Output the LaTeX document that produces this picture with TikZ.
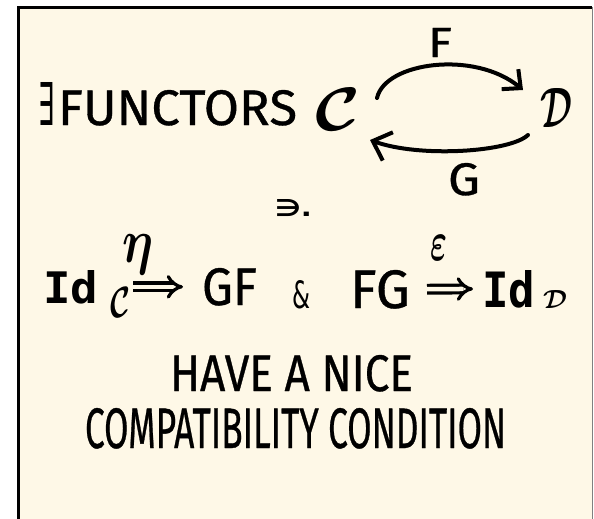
\documentclass[tikz,border=0pt]{standalone}
\usepackage{amsmath,bm}
\usepackage{fontspec}
\setmainfont{Fira Sans}[FakeBold=0.7]
\newfontfamily\symfont{DejaVu Sans}
\newfontfamily\idfont{DejaVu Sans Mono}
\usetikzlibrary{arrows.meta}
\definecolor{cream}{RGB}{254,248,231}
\begin{document}
\begin{tikzpicture}[x=1pt,y=-1pt,
  txt/.style={inner sep=0pt,outer sep=0pt,anchor=north west},
  arcline/.style={line width=4pt,line cap=round,line join=round},
  nat/.style={double=cream,double distance=4.5pt,line width=3.2pt,-{Implies}}]
\useasboundingbox (0,0) rectangle (594,519);
\fill[white] (0,0) rectangle (594,519);
\fill[cream] (18,7.5) rectangle (592.5,519);
\draw[line width=3pt] (18,519) -- (18,7.5) -- (591.5,7.5);
\draw[gray,line width=1.2pt] (592.5,7.5) -- (592.5,519);
% first line
\node[txt] (ex) at (38,82) {\resizebox{16pt}{43pt}{\symfont ∃}};
\node[txt] (fun) at (58,90) {\resizebox{239pt}{35pt}{FUNCTORS}};
\node[txt] (C) at (315,88) {\resizebox*{45pt}{42pt}{$\bm{\mathcal{C}}$}};
\node[txt] (D) at (540,88) {\resizebox*{32pt}{39pt}{$\bm{\mathcal{D}}$}};
\node[txt] (F) at (428,28) {\resizebox{24pt}{29pt}{F}};
\node[txt] (G) at (448,163) {\resizebox{32pt}{32pt}{G}};
\draw[arcline,-{Straight Barb[length=14pt,width=26pt]}]
  ([shift={(17,-11)}]C.east) .. controls (385,62) and (475,50) .. ([shift={(-17,-17.5)}]D.west);
\draw[arcline,-{Straight Barb[length=16pt,width=30pt]}]
  ([shift={(-12,27.5)}]D.west) .. controls (510,152) and (420,158) .. ([shift={(10,31)}]C.east);
% such that
\node[txt] (st) at (275,199) {\resizebox{37pt}{17pt}{\symfont\bfseries ∋.}};
% second line
\node[txt] (id1) at (43,270) {\resizebox{55pt}{33pt}{\idfont\bfseries Id}};
\node[txt] (s1) at (110,287) {\resizebox*{20pt}{30pt}{$\bm{\mathcal{C}}$}};
\node[txt] (eta) at (122,235) {\resizebox*{31pt}{40pt}{$\bm{\eta}$}};
\node[txt] (gf) at (202,268) {\resizebox{55pt}{37pt}{GF}};
\node[txt] (amp) at (292,280) {\resizebox{18pt}{28pt}{\symfont\&}};
\node[txt] (fg) at (350,270) {\resizebox{60pt}{38pt}{FG}};
\node[txt] (eps) at (430,235) {\resizebox*{17pt}{25pt}{$\bm{\varepsilon}$}};
\node[txt] (id2) at (482,270) {\resizebox{53pt}{37pt}{\idfont\bfseries Id}};
\node[txt] (s2) at (543,290) {\resizebox*{24pt}{18pt}{$\bm{\mathcal{D}}$}};
\draw[nat,shorten <=3pt,shorten >=19pt] (s1.east |- gf.center) -- (gf.west);
\draw[nat,shorten <=17pt,shorten >=9pt] (fg.east) -- (id2.west);
% bottom lines
\node[txt] (l1) at (170,355) {\resizebox{243pt}{36pt}{HAVE A NICE}};
\node[txt] (l2) at (85,408) {\resizebox{421pt}{40pt}{COMPATIBILITY CONDITION}};
\end{tikzpicture}
\end{document}
